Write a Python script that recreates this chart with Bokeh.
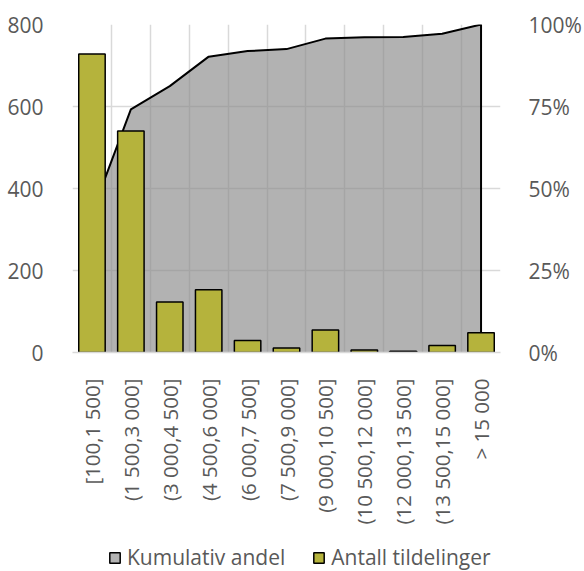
from bokeh.plotting import figure
from bokeh.layouts import column
from bokeh.models import (Range1d, LinearAxis, FixedTicker, NumeralTickFormatter,
                          Legend, LegendItem)
from bokeh.embed import file_html
from bokeh.resources import INLINE
import math

categories = ["[100,1 500]", "(1 500,3 000]", "(3 000,4 500]", "(4 500,6 000]",
              "(6 000,7 500]", "(7 500,9 000]", "(9 000,10 500]", "(10 500,12 000]",
              "(12 000,13 500]", "(13 500,15 000]", "> 15 000"]
counts = [728, 540, 123, 153, 29, 11, 55, 6, 3, 17, 48]
cum_share = [0.425, 0.741, 0.812, 0.902, 0.919, 0.925, 0.957, 0.961, 0.962, 0.972, 1.0]
left_ticks = [0, 200, 400, 600, 800]
right_ticks = [0, 0.25, 0.5, 0.75, 1.0]
series_names = ["Kumulativ andel", "Antall tildelinger"]

FONT = "Open Sans"
FS = "21px"
TXT = "#595959"
GRID = "#d9d9d9"
AREA_LEGEND = "#b3b3b3"
BAR = "#b5b33c"

pos = [i + 1 for i in range(len(categories))]

p = figure(width=584, height=535, output_backend="svg", toolbar_location=None,
           x_range=Range1d(0.5, len(categories) + 0.5), y_range=Range1d(0, 800),
           min_border_left=72, min_border_right=76, min_border_top=24, min_border_bottom=183)
p.outline_line_color = None
p.background_fill_color = "white"

p.extra_y_ranges = {"pct": Range1d(0, 1)}

# cumulative area (secondary axis)
p.varea(x=pos, y1=[0] * len(pos), y2=cum_share, y_range_name="pct",
        fill_color="#8a8a8a", fill_alpha=0.66)
p.line(x=pos + [pos[-1]], y=cum_share + [0], y_range_name="pct",
       line_color="black", line_width=2)

p.vbar(x=pos, top=counts, width=0.68, bottom=0,
       fill_color=BAR, line_color="black", line_width=1.5)

# grids
p.ygrid.ticker = FixedTicker(ticks=left_ticks)
p.ygrid.grid_line_color = GRID
p.ygrid.grid_line_width = 1.5
p.xgrid.ticker = FixedTicker(ticks=[i + 0.5 for i in range(len(categories) + 1)])
p.xgrid.grid_line_color = GRID
p.xgrid.grid_line_width = 1.5

# left axis
ya = p.yaxis[0]
ya.ticker = FixedTicker(ticks=left_ticks)
ya.axis_line_color = None
ya.major_tick_line_color = None
ya.minor_tick_line_color = None
ya.major_label_standoff = 23
ya.major_label_text_font = FONT
ya.major_label_text_font_size = FS
ya.major_label_text_color = TXT

# right axis
ra = LinearAxis(y_range_name="pct", ticker=FixedTicker(ticks=right_ticks),
                formatter=NumeralTickFormatter(format="0%"))
ra.axis_line_color = None
ra.major_tick_line_color = None
ra.minor_tick_line_color = None
ra.major_label_standoff = 22
ra.major_label_text_font = FONT
ra.major_label_text_font_size = FS
ra.major_label_text_color = TXT
p.add_layout(ra, "right")

# bottom axis
xa = p.xaxis[0]
xa.ticker = FixedTicker(ticks=pos)
xa.major_label_overrides = {x: c for x, c in zip(pos, categories)}
xa.major_label_orientation = math.pi / 2
xa.axis_line_color = GRID
xa.axis_line_width = 1.5
xa.major_tick_line_color = None
xa.minor_tick_line_color = None
xa.major_label_standoff = 20
xa.major_label_text_font = FONT
xa.major_label_text_font_size = "20.5px"
xa.major_label_text_color = TXT

# legend strip below the chart (its frame is aligned with the chart's frame)
lg = figure(width=584, height=36, output_backend="svg", toolbar_location=None,
            x_range=Range1d(-1, 0), y_range=Range1d(-1, 0),
            x_axis_location=None, y_axis_location=None,
            min_border_left=0, min_border_right=0, min_border_top=0, min_border_bottom=0)
lg.grid.visible = False
lg.outline_line_color = None
# zero-size swatch proxies, outside the strip's visible ranges
area_proxy = lg.quad(left=pos[:1], right=pos[:1], top=pos[:1], bottom=pos[:1],
                     fill_color=AREA_LEGEND, line_color="black", line_width=1.5)
bar_proxy = lg.quad(left=pos[:1], right=pos[:1], top=pos[:1], bottom=pos[:1],
                    fill_color=BAR, line_color="black", line_width=1.5)

legend = Legend(items=[LegendItem(label=series_names[0], renderers=[area_proxy]),
                       LegendItem(label=series_names[1], renderers=[bar_proxy])],
                orientation="horizontal", location=(36, 0))
legend.glyph_width = 13
legend.glyph_height = 13
legend.label_standoff = 6
legend.spacing = 27
legend.padding = 0
legend.margin = 0
legend.border_line_color = None
legend.background_fill_alpha = 0
legend.label_text_font = FONT
legend.label_text_font_size = FS
legend.label_text_color = TXT
lg.add_layout(legend)

layout = column(p, lg, spacing=0)
open("out.html", "w").write(file_html(layout, INLINE))
